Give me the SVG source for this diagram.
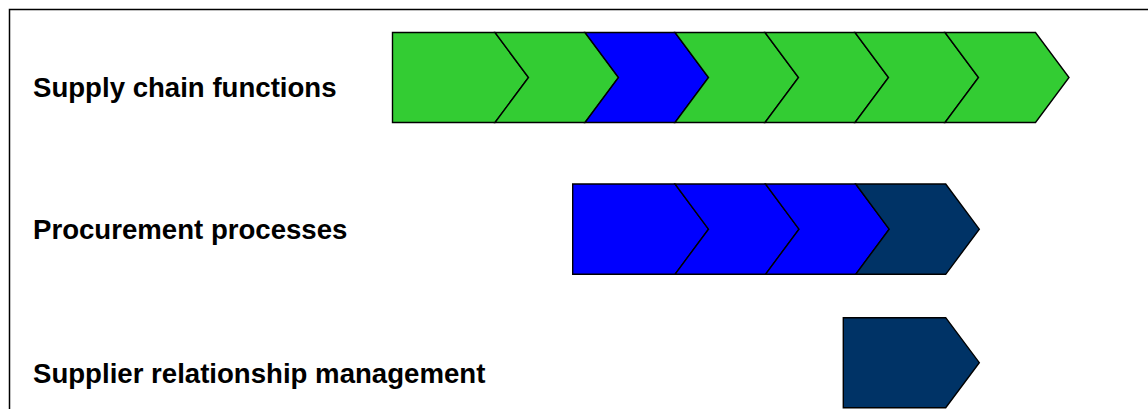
<svg xmlns="http://www.w3.org/2000/svg" width="1148" height="409" viewBox="0 0 1148 409">
<style>
.frame{fill:none;stroke:#000;stroke-width:1.5}
.lbl{font-family:"Liberation Sans",Arial,sans-serif;font-weight:bold;font-size:27.6px;fill:#000}
.sh{stroke:#000;stroke-width:1.4;stroke-linejoin:miter}
.g{fill:#33CC33}
.b{fill:#0000FF}
.n{fill:#003366}
</style>
<rect width="1148" height="409" fill="#fff"/>
<path class="frame" d="M9.5,409 V9.5 H1148"/>
<g id="labels">
<text class="lbl" x="33" y="96.5">Supply chain functions</text>
<text class="lbl" x="33" y="238.5">Procurement processes</text>
<text class="lbl" x="33" y="382.5">Supplier relationship management</text>
</g>
<g id="row1">
<polygon id="r1c1" class="sh g" points="392.5,32.5 495,32.5 528.5,77.5 495,122.5 392.5,122.5"/>
<polygon id="r1c2" class="sh g" points="495,32.5 585,32.5 618.5,77.5 585,122.5 495,122.5 528.5,77.5"/>
<polygon id="r1c3" class="sh b" points="585,32.5 675,32.5 708.5,77.5 675,122.5 585,122.5 618.5,77.5"/>
<polygon id="r1c4" class="sh g" points="675,32.5 765,32.5 798.5,77.5 765,122.5 675,122.5 708.5,77.5"/>
<polygon id="r1c5" class="sh g" points="765,32.5 855,32.5 888.5,77.5 855,122.5 765,122.5 798.5,77.5"/>
<polygon id="r1c6" class="sh g" points="855,32.5 945,32.5 978.5,77.5 945,122.5 855,122.5 888.5,77.5"/>
<polygon id="r1c7" class="sh g" points="945,32.5 1035.5,32.5 1069,77.5 1035.5,122.5 945,122.5 978.5,77.5"/>
</g>
<g id="row2">
<polygon id="r2c1" class="sh b" points="572.7,184 675,184 708.5,229.2 675,274.3 572.7,274.3"/>
<polygon id="r2c2" class="sh b" points="675,184 765.5,184 799,229.2 765.5,274.3 675,274.3 708.5,229.2"/>
<polygon id="r2c3" class="sh b" points="765.5,184 855.7,184 889.2,229.2 855.7,274.3 765.5,274.3 799,229.2"/>
<polygon id="r2c4" class="sh n" points="855.7,184 945.7,184 979.3,229.2 945.7,274.3 855.7,274.3 889.2,229.2"/>
</g>
<g id="row3">
<polygon id="r3c1" class="sh n" points="843.3,317.7 945.7,317.7 979.3,362.7 945.7,407.7 843.3,407.7"/>
</g>
<g id="connectors"/>
</svg>
